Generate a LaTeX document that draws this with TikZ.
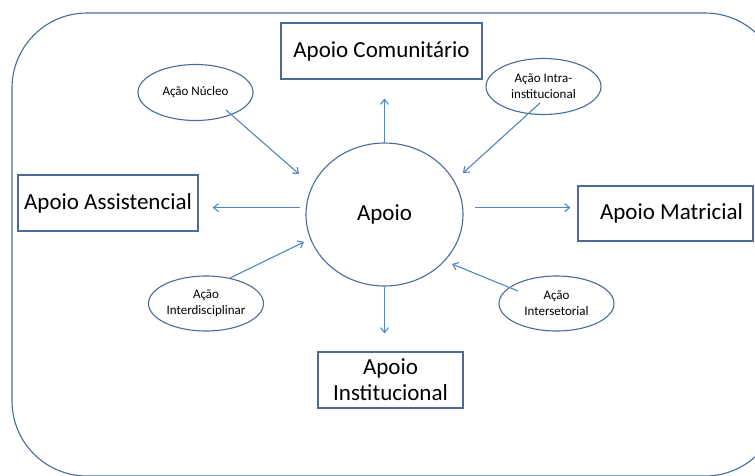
\documentclass[tikz,border=0pt]{standalone}
\usepackage{fontspec}
\setmainfont{Carlito}
\usetikzlibrary{arrows.meta,shapes.geometric}
\definecolor{frameblue}{HTML}{4A6A98}
\definecolor{arrowblue}{HTML}{5585C0}
\begin{document}
\begin{tikzpicture}[x=1pt,y=-1pt,
  big/.style={font=\fontsize{23}{27}\selectfont},
  small/.style={font=\fontsize{13}{16}\selectfont},
  box/.style={draw=frameblue,line width=1.1pt,rectangle,inner sep=0pt,big,align=center},
  bubble/.style={draw=frameblue,line width=1.1pt,ellipse,inner sep=0pt,small,align=center,
    minimum width=115pt,minimum height=56pt},
  link/.style={draw=arrowblue,line width=1.1pt,-{Straight Barb[length=5pt,width=8pt]}}]
\useasboundingbox (0,0) rectangle (755,475);
\clip (0,0) rectangle (755,475);
% outer frame
\draw[frameblue,line width=1.1pt,rounded corners=75pt] (12,13) rectangle (780,476);
% central circle
\node[draw=frameblue,line width=1.1pt,ellipse,minimum width=157pt,minimum height=143pt,
  inner sep=0pt,big] (apoio) at (384.5,214.5) {Apoio};
% surrounding boxes
\node[box,minimum width=201pt,minimum height=56pt] (comunitario) at (381.5,51) {Apoio Comunitário};
\node[box,minimum width=180pt,minimum height=56pt] (assist) at (108,203) {Apoio Assistencial};
\node[box,minimum width=175pt,minimum height=55pt] (matricial) at (665.5,213.5) {\hspace*{12pt}Apoio Matricial};
\node[box,minimum width=145pt,minimum height=56pt,font=\fontsize{23}{26}\selectfont] (institucional) at (390.5,380) {Apoio\\Institucional};
% action ellipses
\node[bubble] (nucleo) at (195.5,92.5) {Ação Núcleo};
\node[bubble] (intra) at (543.5,86.5) {Ação Intra-\\institucional};
\node[bubble,minimum height=55pt] (interd) at (206,303.5) {Ação\\Interdisciplinar};
\node[bubble,minimum height=55pt] (interset) at (556.5,303.5) {Ação\\Intersetorial};
% arrows from the centre outwards
\draw[link,shorten >=19pt] (apoio.north) -- (apoio.north |- comunitario.south);
\draw[link,shorten >=18pt] (apoio.south) -- (apoio.south |- institucional.north);
\draw[link,shorten <=6pt,shorten >=14pt] (apoio.175) -- (apoio.175 -| assist.east);
\draw[link,shorten <=12pt,shorten >=7pt] (apoio.5) -- (apoio.5 -| matricial.west);
% arrows from the actions into the centre
\draw[link] ([shift={(30.5,17.5)}]nucleo.center) -- ([shift={(-85.5,-40.5)}]apoio.center);
\draw[link] ([shift={(-3.5,16.5)}]intra.center) -- ([shift={(78.5,-41.5)}]apoio.center);
\draw[link] ([shift={(24,-25.5)}]interd.center) -- ([shift={(-80.5,27.5)}]apoio.center);
\draw[link] ([shift={(-38.5,-12.5)}]interset.center) -- ([shift={(67.5,49.5)}]apoio.center);
\end{tikzpicture}
\end{document}
